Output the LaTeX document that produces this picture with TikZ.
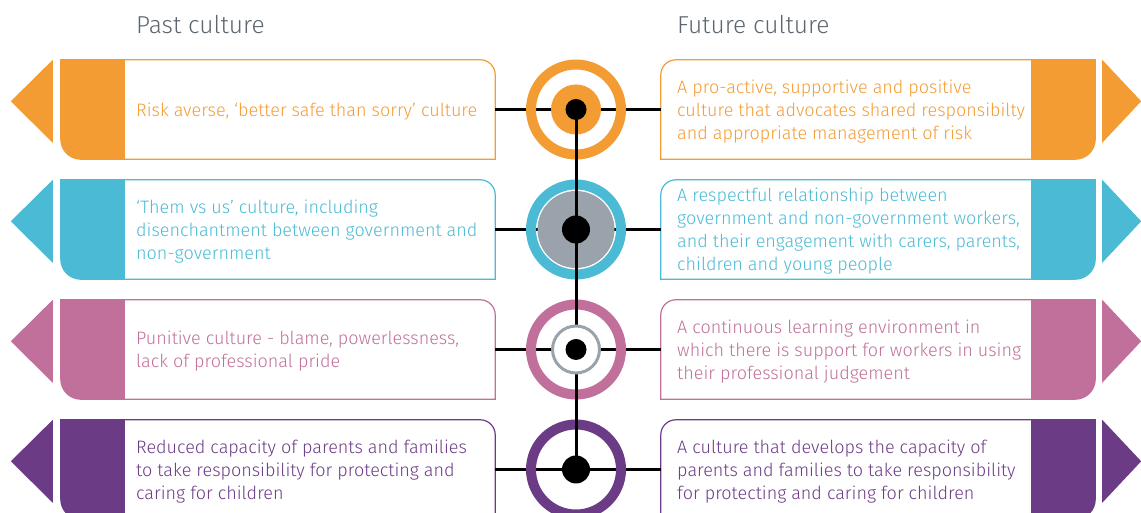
\documentclass[tikz,border=0pt]{standalone}
\usepackage{fontspec}
\setmainfont{Fira Sans Light}
\definecolor{cOrange}{HTML}{F39C34}
\definecolor{cCyan}{HTML}{4BBAD4}
\definecolor{cPink}{HTML}{C0709A}
\definecolor{cPurple}{HTML}{6B3C85}
\definecolor{cGrey}{HTML}{9AA3AC}
\definecolor{cHead}{HTML}{5B6670}
\tikzset{
  box/.style={minimum width=434pt, minimum height=99pt, inner sep=0pt},
  txt/.style={anchor=west, align=left, inner sep=0pt, font=\fontsize{18}{23}\selectfont},
  head/.style={anchor=west, inner sep=0pt, text=cHead, font=\fontsize{24.5}{28}\selectfont},
  dot/.style={circle, fill=black, inner sep=0pt},
  link/.style={line width=3pt}
}

\begin{document}
\begin{tikzpicture}[x=1pt,y=1pt]
  \useasboundingbox (0,0) rectangle (1141,513);
  \node[head] (past) at (136,488) {Past culture};
  \node[head] (future) at (677,488) {Future culture};

  \foreach \i/\yc/\col in {1/403.5/cOrange,2/283.5/cCyan,3/163.5/cPink,4/43.5/cPurple}{
    \node[box] (L\i) at (278,\yc) {};
    \node[box] (R\i) at (878,\yc) {};
    \coordinate (C\i) at (576,\yc);
    % arrow heads
    \fill[\col] ([xshift=-8pt]L\i.north west) -- ++(-42,-41.5) -- ++(42,-41.5) -- cycle;
    \fill[\col] ([xshift=7pt]R\i.north east) -- ++(39,-41.5) -- ++(-39,-41.5) -- cycle;
    % boxes
    \draw[\col, line width=1.2pt] (L\i.north west) -- ([xshift=-15pt]L\i.north east)
      arc[start angle=90, end angle=0, radius=15pt] -- (L\i.south east)
      -- ([xshift=20pt]L\i.south west) arc[start angle=270, end angle=180, radius=20pt] -- cycle;
    \fill[\col] (L\i.north west) -- ([xshift=64pt]L\i.north west) -- ([xshift=64pt]L\i.south west)
      -- ([xshift=20pt]L\i.south west) arc[start angle=270, end angle=180, radius=20pt] -- cycle;
    \draw[\col, line width=1.2pt] (R\i.north east) -- ([xshift=15pt]R\i.north west)
      arc[start angle=90, end angle=180, radius=15pt] -- (R\i.south west)
      -- ([xshift=-20pt]R\i.south east) arc[start angle=270, end angle=360, radius=20pt] -- cycle;
    \fill[\col] ([xshift=-64pt]R\i.north east) -- (R\i.north east) -- ([yshift=20pt]R\i.south east)
      arc[start angle=0, end angle=-90, radius=20pt] -- ([xshift=-64pt]R\i.south east) -- cycle;
    \draw[link] (L\i.east) -- (R\i.west);
    \draw[\col, line width=10pt] (C\i) circle[radius=45pt];
  }

  \node[txt, text=cOrange] (LT1) at (136,401.5) {Risk averse, ‘better safe than sorry’ culture};
  \node[txt, text=cCyan] (LT2) at (136,281.5) {‘Them vs us’ culture, including\\disenchantment between government and\\non-government};
  \node[txt, text=cPink] (LT3) at (136,161.5) {Punitive culture - blame, powerlessness,\\lack of professional pride};
  \node[txt, text=cPurple] (LT4) at (136,41.5) {Reduced capacity of parents and families\\to take responsibility for protecting and\\caring for children};

  \node[txt, text=cOrange] (RT1) at (677,401.5) {A pro-active, supportive and positive\\culture that advocates shared responsibilty\\and appropriate management of risk};
  \node[txt, text=cCyan] (RT2) at (677,281.5) {A respectful relationship between\\government and non-government workers,\\and their engagement with carers, parents,\\children and young people};
  \node[txt, text=cPink] (RT3) at (677,161.5) {A continuous learning environment in\\which there is support for workers in using\\their professional judgement};
  \node[txt, text=cPurple] (RT4) at (677,41.5) {A culture that develops the capacity of\\parents and families to take responsibility\\for protecting and caring for children};

  \fill[cOrange] (C1) circle[radius=25pt];
  \fill[cGrey] (C2) circle[radius=38.5pt];
  \draw[link] (C1) -- (C4);
  \draw[cGrey, line width=3pt, fill=white] (C3) circle[radius=23.5pt];

  \node[dot, minimum size=21pt] (D1) at (C1) {};
  \node[dot, minimum size=28pt] (D2) at (C2) {};
  \node[dot, minimum size=21pt] (D3) at (C3) {};
  \node[dot, minimum size=28pt] (D4) at (C4) {};
\end{tikzpicture}
\end{document}
